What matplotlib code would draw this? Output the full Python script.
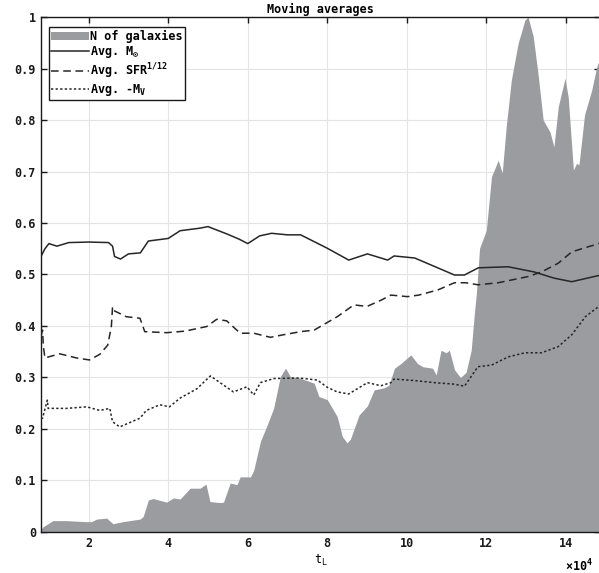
import numpy as np
import matplotlib
matplotlib.use("Agg")
import matplotlib.pyplot as plt

plt.rcParams["font.family"] = ["DejaVu Sans Mono"]
plt.rcParams["font.weight"] = "bold"
plt.rcParams["mathtext.fontset"] = "custom"
plt.rcParams["mathtext.rm"] = "DejaVu Sans Mono:bold"
plt.rcParams["mathtext.it"] = "DejaVu Sans Mono:bold"
plt.rcParams["mathtext.bf"] = "DejaVu Sans Mono:bold"
plt.rcParams["mathtext.default"] = "regular"

# N of galaxies (normalised), t_L in units of 1e4
n_x = [0.8, 0.85, 1.1, 1.44, 1.94, 2.07, 2.2, 2.45, 2.61, 2.86, 3.29, 3.37, 3.5, 3.62,
       3.96, 4.13, 4.3, 4.55, 4.8, 4.95, 5.05, 5.31, 5.39, 5.56, 5.73, 5.81, 6.07, 6.15,
       6.32, 6.49, 6.65, 6.82, 6.95, 7.07, 7.3, 7.67, 7.79, 8.0, 8.13, 8.25, 8.38, 8.5,
       8.58, 8.8, 9.01, 9.18, 9.43, 9.55, 9.69, 9.85, 10.1, 10.27, 10.4, 10.65, 10.74,
       10.86, 10.99, 11.07, 11.2, 11.35, 11.49, 11.62, 11.7, 11.75, 11.83, 12.0, 12.13,
       12.3, 12.4, 12.5, 12.63, 12.8, 12.97, 13.05, 13.18, 13.3, 13.43, 13.6, 13.7,
       13.81, 13.98, 14.06, 14.19, 14.27, 14.33, 14.47, 14.65, 14.78, 14.88]
n_y = [0.005, 0.01, 0.022, 0.022, 0.02, 0.02, 0.025, 0.027, 0.016, 0.02, 0.025, 0.03,
       0.062, 0.065, 0.058, 0.066, 0.064, 0.085, 0.085, 0.093, 0.059, 0.057, 0.058,
       0.095, 0.092, 0.107, 0.107, 0.12, 0.176, 0.208, 0.24, 0.302, 0.318, 0.302, 0.299,
       0.289, 0.263, 0.257, 0.24, 0.224, 0.185, 0.173, 0.18, 0.227, 0.245, 0.276, 0.28,
       0.285, 0.318, 0.327, 0.344, 0.327, 0.321, 0.318, 0.305, 0.353, 0.348, 0.353,
       0.315, 0.3, 0.31, 0.353, 0.425, 0.463, 0.551, 0.586, 0.69, 0.722, 0.697, 0.787,
       0.878, 0.949, 0.994, 1.0, 0.962, 0.89, 0.8, 0.777, 0.748, 0.826, 0.881, 0.844,
       0.703, 0.716, 0.713, 0.81, 0.858, 0.904, 0.923]

# Avg. M_sun
m_x = [0.8, 0.9, 1.0, 1.2, 1.5, 2.0, 2.5, 2.6, 2.65, 2.8, 3.0, 3.3, 3.5, 4.0, 4.3, 4.8,
       5.0, 5.5, 5.8, 6.0, 6.3, 6.6, 7.0, 7.33, 8.0, 8.54, 9.01, 9.52, 9.68, 10.2, 11.2,
       11.45, 11.8, 12.55, 13.2, 13.7, 14.15, 14.88]
m_y = [0.535, 0.55, 0.56, 0.555, 0.562, 0.563, 0.562, 0.555, 0.535, 0.53, 0.54, 0.542,
       0.565, 0.57, 0.585, 0.59, 0.593, 0.578, 0.568, 0.56, 0.575, 0.58, 0.577, 0.577,
       0.551, 0.528, 0.54, 0.528, 0.536, 0.532, 0.499, 0.499, 0.513, 0.515, 0.505, 0.493,
       0.486, 0.499]

# Avg. SFR^(1/12)
s_x = [0.8, 0.84, 0.86, 0.9, 1.27, 1.69, 2.02, 2.28, 2.48, 2.57, 2.6, 2.63, 2.95, 3.29,
       3.41, 3.96, 4.42, 4.97, 5.22, 5.47, 5.81, 6.15, 6.57, 6.9, 7.33, 7.67, 7.96, 8.25,
       8.67, 9.0, 9.35, 9.6, 10.02, 10.3, 10.78, 11.2, 11.48, 11.79, 12.3, 13.05, 13.39,
       13.81, 14.15, 14.57, 14.88]
s_y = [0.38, 0.392, 0.36, 0.338, 0.346, 0.338, 0.334, 0.345, 0.363, 0.399, 0.437, 0.43,
       0.418, 0.415, 0.389, 0.387, 0.39, 0.399, 0.413, 0.41, 0.386, 0.386, 0.378, 0.383,
       0.389, 0.392, 0.405, 0.418, 0.441, 0.438, 0.45, 0.46, 0.457, 0.46, 0.47, 0.484,
       0.484, 0.48, 0.484, 0.496, 0.505, 0.522, 0.544, 0.554, 0.561]

# Avg. -M_V
v_x = [0.8, 0.84, 0.96, 0.98, 1.44, 1.95, 2.28, 2.53, 2.6, 2.78, 3.29, 3.45, 3.79, 4.03,
       4.3, 4.72, 5.06, 5.64, 5.98, 6.15, 6.32, 6.66, 7.3, 7.75, 8.0, 8.25, 8.54, 9.01,
       9.35, 9.6, 9.68, 10.2, 10.69, 11.2, 11.45, 11.79, 12.13, 12.55, 12.97, 13.39,
       13.81, 14.15, 14.49, 14.88]
v_y = [0.22, 0.221, 0.256, 0.24, 0.24, 0.243, 0.236, 0.24, 0.214, 0.204, 0.221, 0.236,
       0.247, 0.243, 0.26, 0.278, 0.303, 0.272, 0.282, 0.266, 0.29, 0.298, 0.299, 0.295,
       0.281, 0.272, 0.268, 0.29, 0.284, 0.29, 0.297, 0.294, 0.29, 0.287, 0.283, 0.321,
       0.324, 0.34, 0.348, 0.348, 0.36, 0.383, 0.418, 0.441]

y_ticks = [0, 0.1, 0.2, 0.3, 0.4, 0.5, 0.6, 0.7, 0.8, 0.9, 1]
y_labels = ["0", "0.1", "0.2", "0.3", "0.4", "0.5", "0.6", "0.7", "0.8", "0.9", "1"]
x_ticks = [2, 4, 6, 8, 10, 12, 14]

fig = plt.figure(figsize=(5.99, 5.73), dpi=100)
ax = fig.add_axes([0.0684, 0.0716, 0.934, 0.8987])

line_col = "#262626"
ax.fill_between(n_x, 0, n_y, color="#9b9ca0", lw=0, label="N of galaxies", zorder=2)
ax.plot(m_x, m_y, color=line_col, lw=1.1, label=r"Avg. M$_{\odot}$", zorder=3)
ax.plot(s_x, s_y, color=line_col, lw=1.1, ls=(0, (5, 3)), label=r"Avg. SFR$^{1/12}$", zorder=3)
ax.plot(v_x, v_y, color=line_col, lw=1.1, ls=(0, (1.5, 1.5)), label=r"Avg. -M$_V$", zorder=3)

ax.set_xlim(0.8, 14.87)
ax.set_ylim(0, 1)
ax.set_xticks(x_ticks)
ax.set_yticks(y_ticks)
ax.set_yticklabels(y_labels)
ax.grid(True, color="#e4e4e4", lw=0.8, zorder=0)
ax.set_axisbelow(True)
ax.tick_params(direction="in", top=True, right=True, labelsize=8.5, length=4, width=1,
               colors="#1a1a1a")
for s in ax.spines.values():
    s.set_linewidth(1.0)
    s.set_color("#1a1a1a")

ax.set_title("Moving averages", fontsize=8.5, fontweight="bold", pad=3)
ax.set_xlabel(r"t$_L$", fontsize=8.5, labelpad=2)
ax.text(0.937, -0.05, r"$\times$10$^4$", transform=ax.transAxes, fontsize=8.5,
        ha="left", va="top")

leg = ax.legend(loc="upper left", bbox_to_anchor=(0.014, 0.98), fontsize=8.5,
                frameon=True, fancybox=False, framealpha=1, edgecolor="#1a1a1a",
                borderpad=0.2, labelspacing=0.1, handlelength=3.2, handletextpad=0.1,
                borderaxespad=0)
leg.get_frame().set_linewidth(1.0)

fig.savefig("out.png", dpi=100)
